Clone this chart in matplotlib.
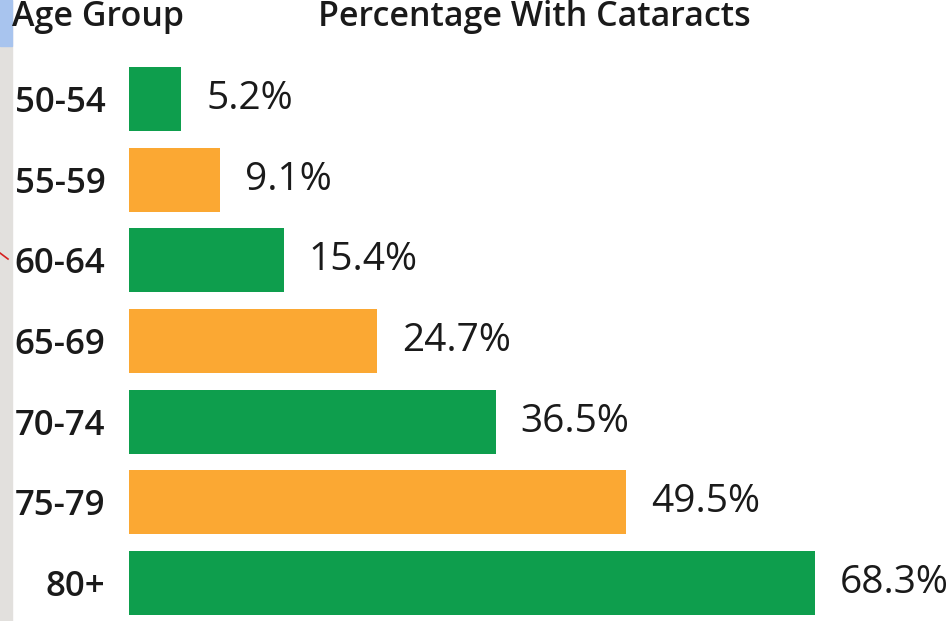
import matplotlib
matplotlib.use("Agg")
import matplotlib.pyplot as plt
from matplotlib.patches import Rectangle
from matplotlib.lines import Line2D

age_groups = ["50-54", "55-59", "60-64", "65-69", "70-74", "75-79", "80+"]
pct = [5.2, 9.1, 15.4, 24.7, 36.5, 49.5, 68.3]
value_labels = ["5.2%", "9.1%", "15.4%", "24.7%", "36.5%", "49.5%", "68.3%"]

green = "#0E9E4D"
orange = "#FBA833"
colors = [green if i % 2 == 0 else orange for i in range(len(pct))]

plt.rcParams["font.family"] = ["Open Sans", "DejaVu Sans"]

W, H = 952, 621
fig = plt.figure(figsize=(W / 100, H / 100), dpi=100)
fig.patch.set_facecolor("white")

# screenshot edge artefacts on the left
fig.patches.append(Rectangle((0, 0), 12 / W, 1, transform=fig.transFigure,
                             color="#E2E0DD", zorder=0))
fig.patches.append(Rectangle((0, 1 - 46 / H), 12 / W, 46 / H, transform=fig.transFigure,
                             color="#A8C4EE", zorder=1))
fig.lines.append(Line2D([0, 8 / W], [1 - 253 / H, 1 - 259 / H], transform=fig.transFigure,
                        color="#D62020", lw=1.2))

ax = fig.add_axes([129 / W, 0, (W - 129) / W, 1])
ax.set_facecolor("none")
y = list(range(len(pct)))
ax.barh(y, pct, height=0.79, color=colors)

xmax = 68.3 * (W - 129) / (815 - 129)
ax.set_xlim(0, xmax)
step = (583 - 99) / 6
ax.set_ylim(6 + (H - 583) / step, -99 / step)

ax.set_yticks(y)
ax.set_yticklabels(age_groups, fontsize=25, color="#1a1a1a", fontweight="semibold")
ax.tick_params(axis="y", length=0, pad=17)
ax.set_xticks([])
for s in ax.spines.values():
    s.set_visible(False)

for yi, v, lab in zip(y, pct, value_labels):
    ax.annotate(lab, (v, yi), xytext=(18, 0), textcoords="offset points",
                va="center", ha="left", fontsize=28, color="#1a1a1a")

fig.text(12 / W, 1 - 17 / H, "Age Group", fontsize=24.5, fontweight="semibold",
         color="#1a1a1a", va="center", ha="left")
fig.text(534 / W, 1 - 17 / H, "Percentage With Cataracts", fontsize=24.5,
         fontweight="semibold", color="#1a1a1a", va="center", ha="center")

fig.savefig("out.png", dpi=100)
